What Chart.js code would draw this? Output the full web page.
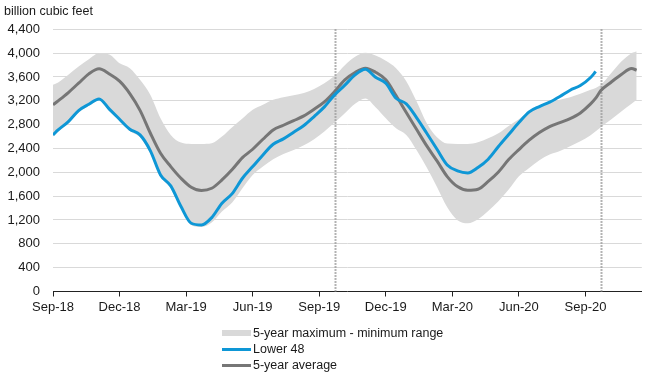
<!DOCTYPE html>
<html>
<head>
<meta charset="utf-8">
<script src="https://cdn.jsdelivr.net/npm/chart.js@4.4.1/dist/chart.umd.min.js"></script>
<style>
  html, body { margin:0; padding:0; background:#fff; }
  #wrap { position:relative; width:650px; height:379px; font-family:'Liberation Sans', Arial, sans-serif; color:#1a1a1a; }
  #c { position:absolute; left:0; top:0; }
  #unit { position:absolute; left:4px; top:4px; font-size:12.5px; white-space:nowrap; }
  .lg { position:absolute; left:222px; height:16px; display:flex; align-items:center; font-size:12.5px; white-space:nowrap; }
  .sw { width:29px; margin-right:2px; }
</style>
</head>
<body>
<div id="wrap">
  <canvas id="c" width="650" height="379"></canvas>
  <div id="unit">billion cubic feet</div>
  <div class="lg" style="top:325px"><div class="sw" style="height:6px;background:#d9d9d9"></div>5-year maximum - minimum range</div>
  <div class="lg" style="top:341px"><div class="sw" style="height:3px;background:#0e97d6"></div>Lower 48</div>
  <div class="lg" style="top:357px"><div class="sw" style="height:3px;background:#767676"></div>5-year average</div>
</div>
<script>
// week index (0 = Sep-18 tick) of each observation
const weeks = [0,1,3,5,7,9,11,13,15,17,19,21,23,25,27,29,31,33,35,37,39,41,43,45,47,49,51,53,55,57,
  59,61,63,65,67,69,71,73,75,77,79,81,83,85,87,89,91,93,95,97,99,101,103,105,106,107,109,111,113,114];

const lower48 = [2628,2712,2852,3037,3143,3232,3060,2891,2723,2628,2365,1957,1772,1425,1145,1117,1240,1481,1643,1900,
  2096,2292,2471,2561,2673,2785,2936,3098,3300,3462,3636,3731,3596,3496,3244,3149,2919,2656,2387,2124,
  2024,1990,2080,2220,2432,2634,2835,3014,3104,3177,3272,3378,3456,3591,3691,null,null,null,null,null];

const fiveYearAvg = [3132,3199,3339,3496,3652,3736,3650,3530,3322,3040,2660,2320,2096,1900,1749,1693,1732,1872,2046,2247,
  2387,2555,2712,2790,2869,2947,3059,3182,3356,3552,3675,3747,3680,3552,3288,3003,2723,2443,2191,1928,
  1760,1699,1716,1847,2007,2214,2382,2539,2667,2768,2835,2902,2997,3148,3244,3372,3512,3641,3742,3714];

const rangeMax = [3468,3507,3636,3775,3899,3999,3977,3830,3747,3552,3300,2908,2628,2499,2477,2477,2488,2600,2757,2902,
  3048,3132,3216,3260,3294,3333,3400,3496,3619,3798,3938,4005,3960,3871,3747,3529,3193,2824,2589,2483,
  2477,2477,2505,2572,2656,2779,2891,3020,3093,3160,3216,3260,3317,3384,3417,3468,3663,3859,3999,4027];

const rangeMin = [2600,2684,2824,3003,3115,3205,3030,2860,2695,2589,2320,1929,1732,1391,1117,1083,1156,1341,1492,1732,
  1956,2096,2219,2309,2376,2454,2555,2684,2835,2992,3149,3238,3093,2908,2740,2628,2376,2080,1755,1413,
  1195,1145,1212,1350,1514,1710,1934,2074,2203,2298,2359,2438,2522,2622,2690,2757,2886,3020,3149,3216];

const tickWeeks = [0,13,26,39,52,65,78,91,104];
const tickLabels = ['Sep-18','Dec-18','Mar-19','Jun-19','Sep-19','Dec-19','Mar-20','Jun-20','Sep-20'];
const markerWeeks = [55,107];

const pts = arr => weeks.map((w,i) => ({x:w, y:arr[i]}));
const FONT = {family:"'Liberation Sans', Arial, sans-serif", size:13};

const markers = {
  id:'markers',
  beforeDatasetsDraw(chart){
    const {ctx, chartArea, scales} = chart;
    ctx.save();
    ctx.strokeStyle = '#9a9a9a';
    ctx.lineWidth = 2;
    ctx.setLineDash([1.5,1.5]);
    markerWeeks.forEach(w => {
      const x = Math.round(scales.x.getPixelForValue(w)) + 0.5;
      ctx.beginPath();
      ctx.moveTo(x, chartArea.top);
      ctx.lineTo(x, chartArea.bottom);
      ctx.stroke();
    });
    ctx.restore();
  }
};

new Chart(document.getElementById('c'), {
  type:'line',
  data:{
    datasets:[
      {label:'Lower 48', data:pts(lower48), borderColor:'#0e97d6', borderWidth:3, pointRadius:0, fill:false, cubicInterpolationMode:'monotone'},
      {label:'5-year average', data:pts(fiveYearAvg), borderColor:'#767676', borderWidth:3, pointRadius:0, fill:false, cubicInterpolationMode:'monotone'},
      {label:'min', data:pts(rangeMin), borderWidth:0, borderColor:'rgba(0,0,0,0)', pointRadius:0, fill:false, cubicInterpolationMode:'monotone'},
      {label:'5-year maximum - minimum range', data:pts(rangeMax), borderWidth:0, borderColor:'rgba(0,0,0,0)', pointRadius:0,
        backgroundColor:'#d9d9d9', fill:{target:'-1'}, cubicInterpolationMode:'monotone'}
    ]
  },
  options:{
    responsive:false,
    animation:false,
    layout:{padding:{top:29.3, right:8.2, bottom:0, left:0}},
    plugins:{
      legend:{display:false},
      tooltip:{enabled:false},
      filler:{drawTime:'beforeDatasetsDraw'}
    },
    scales:{
      x:{
        type:'linear', min:0, max:115,
        afterBuildTicks: s => { s.ticks = tickWeeks.map(v => ({value:v})); },
        afterFit: s => { s.height = 87.5; },
        ticks:{ callback:(v,i) => tickLabels[i], font:FONT, color:'#1a1a1a', padding:3, maxRotation:0, autoSkip:false },
        grid:{ drawOnChartArea:false, drawTicks:true, tickLength:5, color:'#222', lineWidth:1 },
        border:{ display:true, color:'#222', width:1 }
      },
      y:{
        min:0, max:4400,
        afterFit: s => { s.width = 53; },
        ticks:{ stepSize:400, callback:v => v.toLocaleString('en-US'), font:FONT, color:'#1a1a1a', padding:13 },
        grid:{ color:'#d9d9d9', drawTicks:false, lineWidth:1 },
        border:{ display:false }
      }
    }
  },
  plugins:[markers]
});
</script>
</body>
</html>
